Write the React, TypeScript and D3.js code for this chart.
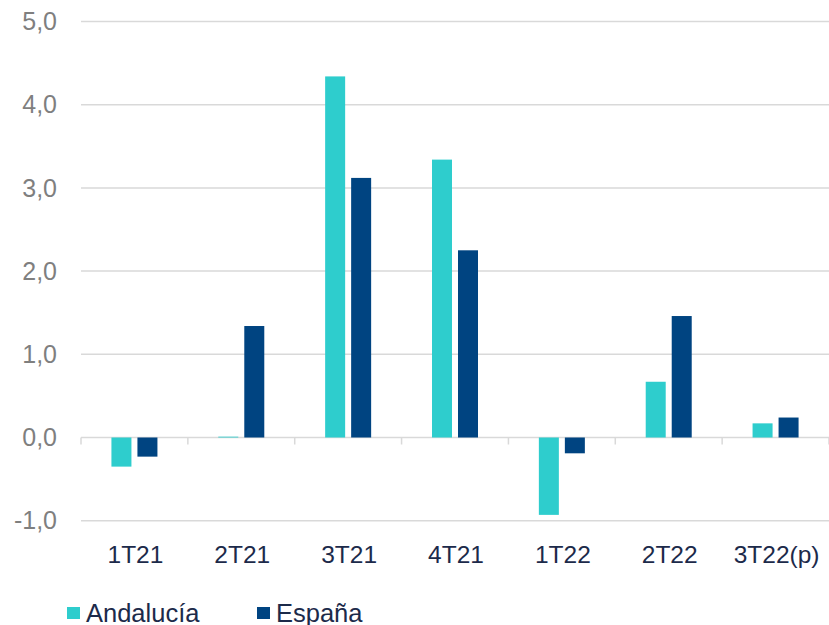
import React from "react";
import * as d3 from "d3";

const categories = ["1T21", "2T21", "3T21", "4T21", "1T22", "2T22", "3T22(p)"];
const andalucia = [-0.35, 0.01, 4.34, 3.34, -0.93, 0.67, 0.17];
const espana = [-0.23, 1.34, 3.12, 2.25, -0.19, 1.46, 0.24];
const yTicks = [-1, 0, 1, 2, 3, 4, 5];
const seriesNames = ["Andalucía", "España"];
const colors = ["#2ECDCD", "#004481"];

export default function App() {
  const W = 829, H = 625;
  const left = 81, right = 829;
  const y = d3.scaleLinear().domain([-1, 5]).range([520.7, 21.5]);
  const x = d3.scaleBand<string>().domain(categories).range([left, right]).paddingInner(0).paddingOuter(0);
  const bw = 20, gap = 6;
  const fmt = (v: number) => v.toFixed(1).replace(".", ",");
  const font = "'Liberation Sans', Arial, sans-serif";
  const series = [andalucia, espana];
  return (
    <svg width={W} height={H} style={{ position: "absolute", left: 0, top: 0, background: "#fff" }} fontFamily={font}>
      {yTicks.map((t) => (
        <g key={t}>
          <line x1={left} x2={right} y1={y(t)} y2={y(t)} stroke="#d9d9d9" strokeWidth={1.5} />
          <text x={57} y={y(t)} dy="0.35em" textAnchor="end" fontSize={25} fill="#7f7f7f">{fmt(t)}</text>
        </g>
      ))}
      {categories.map((c, i) => {
        const cx = (x(c) as number) + x.bandwidth() / 2;
        return (
          <g key={c}>
            {series.map((s, j) => {
              const v = s[i];
              const x0 = j === 0 ? cx - gap / 2 - bw : cx + gap / 2;
              const y0 = Math.min(y(v), y(0));
              const h = Math.abs(y(v) - y(0));
              return <rect key={j} x={x0} y={y0} width={bw} height={Math.max(h, 0.8)} fill={colors[j]} />;
            })}
            <text x={cx + 1} y={563} textAnchor="middle" fontSize={24.5} fill="#1c2a4a">{c}</text>
          </g>
        );
      })}
      {d3.range(categories.length + 1).map((i) => {
        const xx = left + i * x.step();
        return <line key={i} x1={xx} x2={xx} y1={y(0)} y2={y(0) + 7} stroke="#d9d9d9" strokeWidth={1.5} />;
      })}
      {seriesNames.map((n, j) => {
        const lx = j === 0 ? 67 : 257;
        return (
          <g key={n}>
            <rect x={lx} y={607} width={13} height={12} fill={colors[j]} />
            <text x={lx + 19} y={622} fontSize={25.5} fill="#1c2a4a">{n}</text>
          </g>
        );
      })}
    </svg>
  );
}
